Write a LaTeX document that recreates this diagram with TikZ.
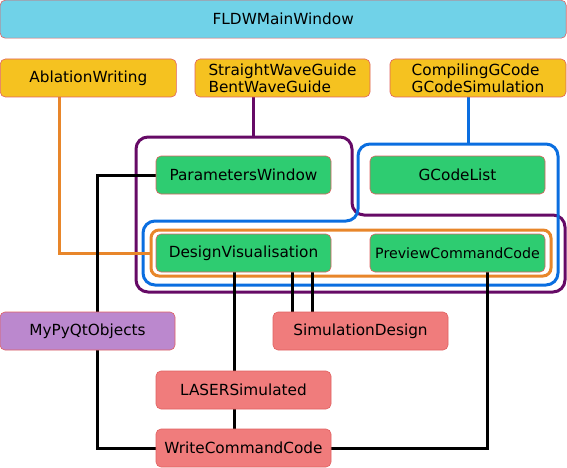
\documentclass[tikz,border=0pt]{standalone}
\usepackage{fontspec}
\setmainfont{DejaVu Sans}
\usetikzlibrary{backgrounds,calc}
\definecolor{cyanf}{HTML}{70D2E8}
\definecolor{yelf}{HTML}{F5C220}
\definecolor{grnf}{HTML}{2ECC71}
\definecolor{pnkf}{HTML}{F07C7C}
\definecolor{purf}{HTML}{BB88CE}
\definecolor{bord}{HTML}{E06060}
\definecolor{grpP}{HTML}{660A66}
\definecolor{grpB}{HTML}{0A6EE0}
\definecolor{grpO}{HTML}{E8862A}
\tikzset{
  box/.style={draw=bord, line width=0.6pt, rounded corners=5pt, minimum height=38pt,
    minimum width=175pt, inner sep=0pt, font=\fontsize{15.3}{17.4}\selectfont, align=center},
  mainbox/.style={box, fill=cyanf},
  ybox/.style={box, fill=yelf},
  gbox/.style={box, fill=grnf},
  pbox/.style={box, fill=pnkf},
  vbox/.style={box, fill=purf},
  link/.style={line width=3pt, black},
  grp/.style={line width=3pt, rounded corners=12pt}
}
\begin{document}
\begin{tikzpicture}[x=1pt,y=-1pt]
\useasboundingbox (0,0) rectangle (567,468);
\node[mainbox, minimum width=566pt] (main) at (283.2,19.2) {FLDWMainWindow};
\node[ybox, minimum width=176pt] (abl) at (88.3,78) {AblationWriting};
\node[ybox, align=left] (swg) at (282.5,78) {StraightWaveGuide\\BentWaveGuide};
\node[ybox, minimum width=176pt, align=left] (cgc) at (478,78) {CompilingGCode\\GCodeSimulation};
\node[gbox] (par) at (243.5,175) {ParametersWindow};
\node[gbox] (gcl) at (457.5,175) {GCodeList};
\node[gbox] (dv) at (243.5,253) {DesignVisualisation};
\node[gbox, font=\fontsize{14.2}{16}\selectfont] (pcc) at (457.5,253) {PreviewCommandCode};
\node[vbox] (myq) at (87.5,331) {MyPyQtObjects};
\node[pbox] (sim) at (360.5,331) {SimulationDesign};
\node[pbox] (las) at (243.5,390) {LASERSimulated};
\node[pbox] (wcc) at (243.5,448) {WriteCommandCode};
% group coordinates
\coordinate (oL) at (151,253);
\coordinate (pT) at (253.5,137);
\coordinate (bT) at (468.5,144);
\coordinate (k1) at (97,175);
\coordinate (k2) at (97,448);
\coordinate (k3) at (487,448);
\begin{scope}[on background layer]
  % groups
  \draw[grp, draw=grpP] (136,137) -- (352,137) -- (352,215) -- (565,215) -- (565,292) -- (136,292) -- cycle;
  \draw[grp, draw=grpB] (358,144) -- (558,144) -- (558,285) -- (143,285) -- (143,221) -- (358,221) -- cycle;
  \draw[line width=3pt, draw=grpO, rounded corners=8pt] (151,230) rectangle (551,276);
  % group connectors
  \draw[line width=3pt, grpO] (abl.south -| 59,0) |- (oL);
  \draw[line width=3pt, grpP] (swg.south -| pT) -- (pT);
  \draw[line width=3pt, grpB] (cgc.south -| bT) -- (bT);
  % black links
  \draw[link] (par.west) -- (k1) -- (myq.north -| k1);
  \draw[link] (myq.south -| k1) -- (k2) -- (wcc.west);
  \draw[link] (dv.south -| 234,0) -- (las.north -| 234,0);
  \draw[link] (las.south -| 234,0) -- (wcc.north -| 234,0);
  \draw[link] (dv.south -| 292,0) -- (sim.north -| 292,0);
  \draw[link] (dv.south -| 312,0) -- (sim.north -| 312,0);
  \draw[link] (pcc.south -| k3) -- (k3) -- (wcc.east);
\end{scope}
\end{tikzpicture}
\end{document}
